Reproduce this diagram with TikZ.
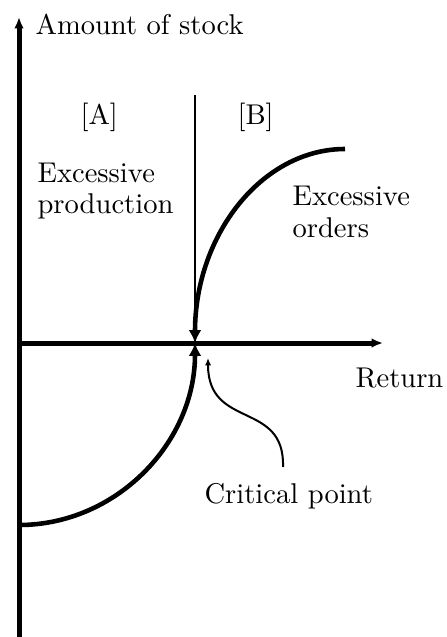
\documentclass[tikz,border=0pt]{standalone}
\usepackage{tikz}
\usetikzlibrary{arrows.meta,positioning}

\begin{document}
\begin{tikzpicture}[x=0.35pt,y=-0.35pt,
		axis/.style={line width=1.75pt,-{Latex[length=4pt,width=3.4pt]}},
		curve/.style={line width=1.6pt,-{Latex[length=4.5pt,width=4.5pt]}},
		guide/.style={line width=0.7pt},
		txt/.style={inner sep=0pt,anchor=base west,align=left}]
			\useasboundingbox (0,0) rectangle (446,637);

			% axes
			\coordinate (O) at (19,343);
			\coordinate (ytop) at (19,17);
			\coordinate (ybot) at (19,637);
			\coordinate (xend) at (383,343);
			\draw[axis] (ybot)--(ytop);
			\draw[axis] (O)--(xend);

			% critical point and curves
			\coordinate (crit) at (195,343);
			\coordinate (split) at (195,95);
			\coordinate (orders) at (345,149);
			\coordinate (stock) at (19,525);
			\draw[guide] (split)--(crit);
			\draw[curve] (orders) .. controls +(-83,0) and +(0,-108) .. (crit);
			\draw[curve] (stock) .. controls +(97,0) and +(0,100) .. (crit);

			% texts (base = last line)
			\node[txt] (ylab) at (35,35) {Amount of stock};
			\node[txt] (xlab) at (355,387) {Return};
			\node[txt] (A) at (80,125) {[A]};
			\node[txt] (B) at (237,125) {[B]};
			\node[txt] (prod) at (37,214) {Excessive\\[-1pt]production};
			\node[txt] (ord) at (292,237) {Excessive\\[-1pt]orders};
			\node[txt] (cp) at (204,503) {Critical point};

			\coordinate (cstart) at (283,467);
			\coordinate (ctip) at (208,358);
			\draw[guide,-{Latex[length=2.6pt,width=2.2pt]}] (cstart) .. controls (285,400) and (208,430) .. (ctip);
		\end{tikzpicture}
\end{document}
